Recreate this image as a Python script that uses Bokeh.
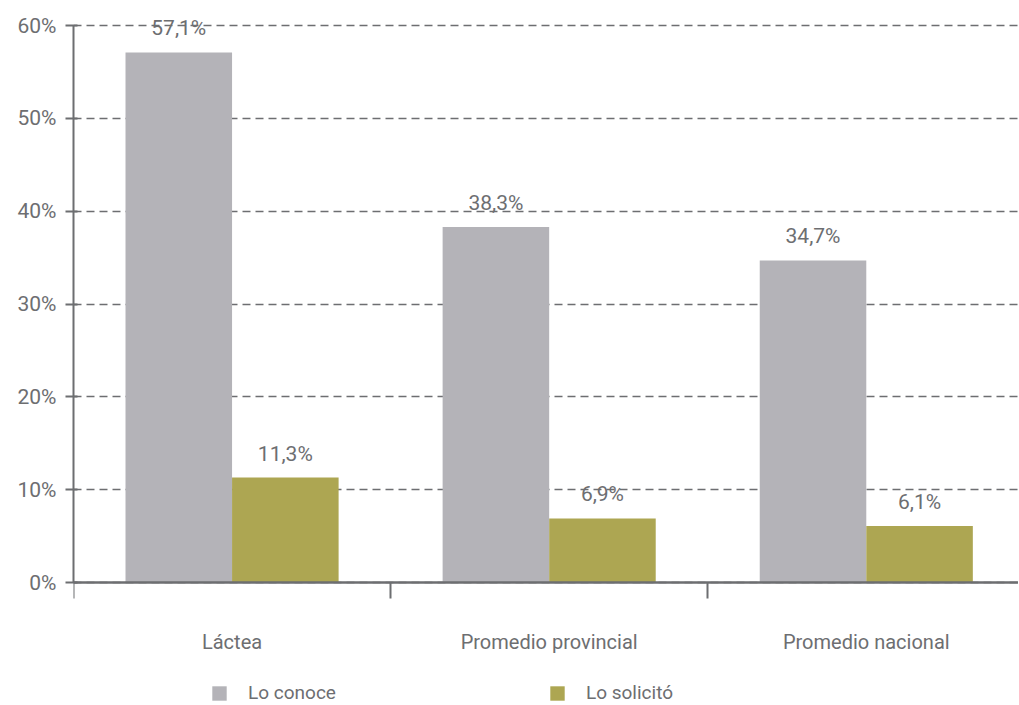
from bokeh.plotting import figure
from bokeh.models import (FixedTicker, PrintfTickFormatter, Range1d, Legend, LegendItem,
                          ColumnDataSource)
from bokeh.core.properties import value
from bokeh.embed import file_html
from bokeh.resources import INLINE

categories = ["Láctea", "Promedio provincial", "Promedio nacional"]
lo_conoce = [57.1, 38.3, 34.7]
lo_solicito = [11.3, 6.9, 6.1]
series_names = ["Lo conoce", "Lo solicitó"]
y_ticks = [0, 10, 20, 30, 40, 50, 60]

FONT = "Roboto"
TXT = "#6d6e71"
GRAY = "#b4b3b8"
OLIVE = "#ada652"

def fmt(v):
    return f"{v:.1f}".replace(".", ",") + "%"

centers = [i + 0.5 for i in range(len(categories))]
bw = 0.336
src1 = ColumnDataSource(dict(x=[c - bw / 2 for c in centers], top=lo_conoce,
                             lab=[fmt(v) for v in lo_conoce]))
src2 = ColumnDataSource(dict(x=[c + bw / 2 for c in centers], top=lo_solicito,
                             lab=[fmt(v) for v in lo_solicito]))

p = figure(width=1018, height=705, output_backend="svg", toolbar_location=None,
           x_range=Range1d(0, 2.98), y_range=Range1d(-13.25, 61.62),
           min_border_left=73, min_border_right=0, min_border_top=10, min_border_bottom=0)
p.outline_line_color = None
p.xgrid.grid_line_color = None
p.ygrid.grid_line_color = TXT
p.ygrid.grid_line_dash = "8 5"
p.ygrid.grid_line_width = 1.3

r1 = p.vbar(x="x", top="top", width=bw, bottom=0, source=src1, fill_color=GRAY, line_color=None)
r2 = p.vbar(x="x", top="top", width=bw, bottom=0, source=src2, fill_color=OLIVE, line_color=None)

for s in (src1, src2):
    p.text(x="x", y="top", text="lab", source=s, text_align="center", text_baseline="bottom",
           y_offset=-12, text_font=value(FONT), text_font_size="21px", text_color=TXT)

# y axis
ya = p.yaxis[0]
ya.ticker = FixedTicker(ticks=y_ticks)
ya.bounds = (0, 60)
ya.formatter = PrintfTickFormatter(format="%d%%")
ya.axis_line_color = TXT
ya.axis_line_width = 2
ya.major_tick_line_color = TXT
ya.major_tick_line_width = 2
ya.major_tick_out = 8
ya.major_tick_in = 4
ya.minor_tick_line_color = None
ya.major_label_text_font = FONT
ya.major_label_text_font_size = "21px"
ya.major_label_text_color = TXT
ya.major_label_standoff = 9

# x axis
xa = p.xaxis[0]
xa.fixed_location = 0
xa.ticker = FixedTicker(ticks=centers, minor_ticks=list(range(len(categories) + 1)))
xa.major_label_overrides = {c: name for c, name in zip(centers, categories)}
xa.axis_line_color = TXT
xa.axis_line_width = 2.5
xa.major_tick_line_color = None
xa.minor_tick_line_color = TXT
xa.minor_tick_line_width = 2
xa.minor_tick_out = 16
xa.minor_tick_in = 0
xa.major_label_text_font = FONT
xa.major_label_text_font_size = "20px"
xa.major_label_text_color = TXT
xa.major_label_standoff = 31

lg = Legend(items=[LegendItem(label=series_names[0], renderers=[r1]),
                   LegendItem(label=series_names[1], renderers=[r2])],
            location=(137, 1), orientation="horizontal", glyph_width=18, glyph_height=18,
            label_standoff=20, spacing=212, padding=0, margin=0, border_line_color=None,
            background_fill_alpha=0, label_text_font=FONT, label_text_font_size="19px",
            label_text_color=TXT)
p.add_layout(lg, "center")

open("out.html", "w").write(file_html(p, INLINE))
